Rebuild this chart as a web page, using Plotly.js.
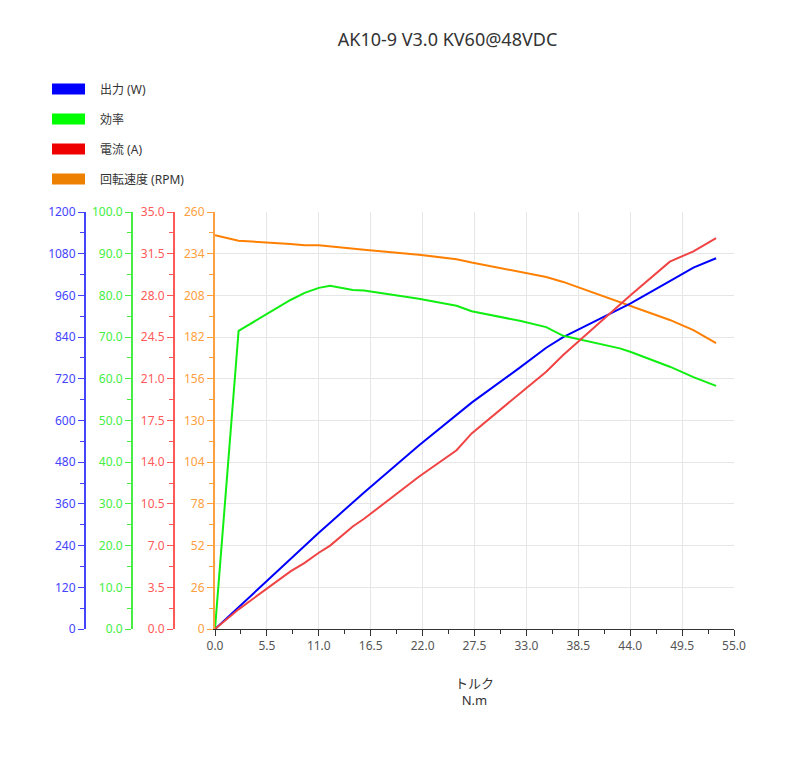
<!DOCTYPE html>
<html>
<head>
<meta charset="utf-8">
<script src="https://cdn.plot.ly/plotly-3.0.1.min.js"></script>
<style>html,body{margin:0;padding:0;background:#fff;}#chart{width:788px;height:783px;}</style>
</head>
<body>
<div id="chart"></div>
<script>
// Torque (N.m)
const torque = [0, 2.5, 8, 9.5, 11, 12.2, 14.6, 15.8, 21.6, 25.6, 27.2, 32.3, 35.1, 36.9, 42.9, 44, 48.2, 50.7, 53.1];
// Output power (W)
const power = [0, 63.5, 202, 239.5, 276.7, 306, 364.5, 393, 528, 618, 651.5, 752, 809.5, 840, 922, 936, 1001, 1040, 1067];
// Efficiency (%)
const efficiency = [0, 71.5, 78.9, 80.6, 81.8, 82.3, 81.3, 81.2, 79.2, 77.5, 76.2, 73.9, 72.4, 70.3, 67.3, 66.5, 62.9, 60.4, 58.3];
// Current (A)
const current = [0, 1.65, 4.83, 5.55, 6.4, 7.0, 8.6, 9.25, 12.78, 15.0, 16.42, 19.8, 21.6, 23.0, 27.2, 28.0, 30.83, 31.7, 32.8];
// Speed (RPM)
const speed = [245.6, 242.1, 240.0, 239.3, 239.2, 238.4, 237.2, 236.4, 233.4, 230.6, 228.5, 222.4, 219.5, 216.4, 203.6, 201.4, 192.7, 186.4, 178.3];

const seriesNames = ['出力 (W)', '効率', '電流 (A)', '回転速度 (RPM)'];
const titleText = 'AK10-9 V3.0 KV60@48VDC';
const xTitleText = 'トルク<br>N.m';

const lineColors = ['#0000ff', '#11ee11', '#f04444', '#ff8000'];
const swatchColors = ['#0000ff', '#00ff00', '#ee0000', '#ee8000'];
const axisColors = ['#4444ff', '#44ee44', '#ff5a5a', '#ffa040'];

const FONT = 'Noto Sans, Noto Sans CJK JP, sans-serif';

const traces = [
  {x: torque, y: power, yaxis: 'y2', name: seriesNames[0], mode: 'lines', line: {color: lineColors[0], width: 2}},
  {x: torque, y: efficiency, yaxis: 'y3', name: seriesNames[1], mode: 'lines', line: {color: lineColors[1], width: 2}},
  {x: torque, y: current, yaxis: 'y4', name: seriesNames[2], mode: 'lines', line: {color: lineColors[2], width: 2}},
  {x: torque, y: speed, yaxis: 'y', name: seriesNames[3], mode: 'lines', line: {color: lineColors[3], width: 2}}
];

const W = 734; // paper width in px (margin l=0, r=54)
const H = 417; // plot height
const px = v => v / W;
const py = v => (629 - v) / H;

function yax(color, range, dtick, fmt, extra) {
  return Object.assign({
    range: range, dtick: dtick, tick0: 0, tickformat: fmt,
    showgrid: false, zeroline: false,
    showline: true, linecolor: color, linewidth: 2,
    ticks: 'outside', ticklen: 6, tickwidth: 1, tickcolor: color,
    tickfont: {color: color, size: 12, family: FONT},
    minor: {dtick: dtick / 2, ticks: 'outside', ticklen: 4, tickcolor: color, showgrid: false},
    fixedrange: true, automargin: false
  }, extra || {});
}

const shapes = [];
const annotations = [];
const legendY = [89, 119, 149, 179];
seriesNames.forEach((n, i) => {
  shapes.push({type: 'rect', xref: 'paper', yref: 'paper',
    x0: px(52), x1: px(85), y0: py(legendY[i] + 5.5), y1: py(legendY[i] - 5.5),
    fillcolor: swatchColors[i], line: {width: 0}});
  annotations.push({xref: 'paper', yref: 'paper', x: px(98), y: py(legendY[i]),
    xanchor: 'left', yanchor: 'middle', showarrow: false, text: n,
    font: {size: 12, color: '#333', family: FONT}});
});

const layout = {
  width: 788, height: 783,
  margin: {l: 0, r: 54, t: 212, b: 154},
  paper_bgcolor: '#fff', plot_bgcolor: '#fff',
  showlegend: false,
  font: {family: FONT, size: 12, color: '#444'},
  title: {text: titleText, x: 447.5 / 788, xanchor: 'center', y: 1 - 40 / 783, yanchor: 'middle',
    font: {size: 18, color: '#333', family: FONT}},
  xaxis: {
    domain: [px(215), 1], range: [0, 55], dtick: 5.5, tick0: 0, tickformat: '.1f',
    showgrid: true, gridcolor: '#e6e6e6', gridwidth: 1, zeroline: false,
    showline: true, linecolor: '#333', linewidth: 1,
    ticks: 'outside', ticklen: 6, tickcolor: '#333',
    minor: {dtick: 2.75, ticks: 'outside', ticklen: 4, tickcolor: '#333', showgrid: false},
    tickfont: {size: 12, color: '#555', family: FONT},
    title: {text: xTitleText, standoff: 25, font: {size: 13, color: '#333', family: FONT}},
    fixedrange: true, automargin: false
  },
  yaxis: yax(axisColors[3], [0, 260], 26, 'd', {anchor: 'x', showgrid: true, gridcolor: '#e6e6e6'}),
  yaxis2: yax(axisColors[0], [0, 1200], 120, 'd', {overlaying: 'y', anchor: 'free', position: px(85), side: 'left'}),
  yaxis3: yax(axisColors[1], [0, 100], 10, '.1f', {overlaying: 'y', anchor: 'free', position: px(132), side: 'left'}),
  yaxis4: yax(axisColors[2], [0, 35], 3.5, '.1f', {overlaying: 'y', anchor: 'free', position: px(174), side: 'left'}),
  shapes: shapes,
  annotations: annotations
};

Plotly.newPlot('chart', traces, layout, {displayModeBar: false, staticPlot: true});
</script>
</body>
</html>
